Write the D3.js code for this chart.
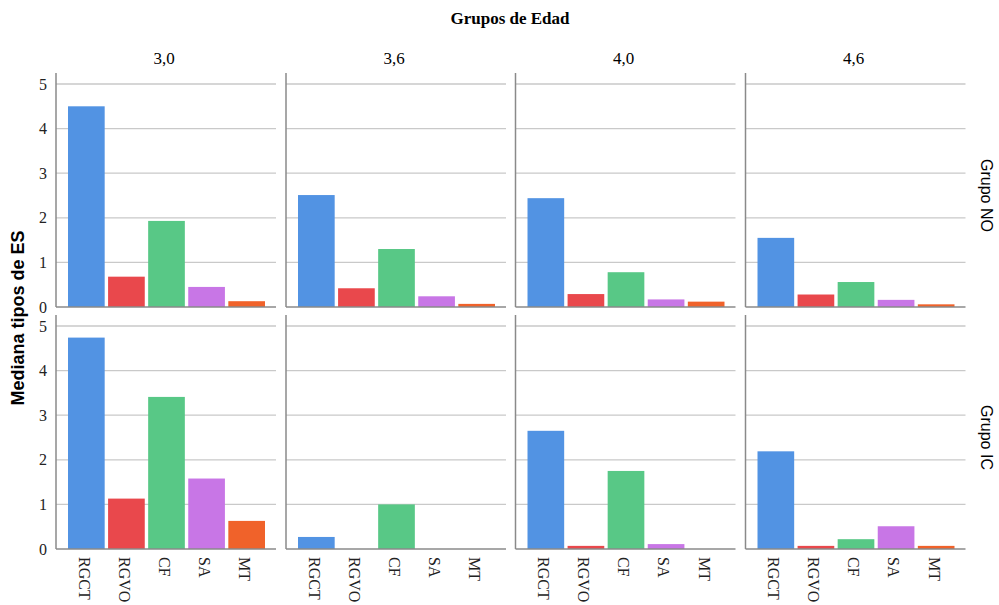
<!DOCTYPE html>
<html><head><meta charset="utf-8">
<script src="https://cdn.jsdelivr.net/npm/d3@7"></script>
<style>body{margin:0;background:#fff}</style>
</head><body>
<svg id="c" width="999" height="605"></svg>
<script>
const categories = ["RGCT","RGVO","CF","SA","MT"];
const ageGroups = ["3,0","3,6","4,0","4,6"];
const rowGroups = ["Grupo NO","Grupo IC"];
const yTicks = [0,1,2,3,4,5];
// values per age group, order of categories
const grupoNO = [
  [4.50,0.68,1.93,0.45,0.13],
  [2.51,0.42,1.30,0.24,0.07],
  [2.44,0.29,0.78,0.17,0.12],
  [1.55,0.28,0.56,0.16,0.06]
];
const grupoIC = [
  [4.74,1.13,3.41,1.58,0.63],
  [0.27,0,1.00,0,0],
  [2.65,0.07,1.75,0.11,0],
  [2.19,0.07,0.22,0.51,0.07]
];
const colors = ["#5293e3","#e9484c","#58c886","#c876e6","#f0622a"];

const svg = d3.select("#c");
const panelLefts = [56,286,515.5,745.5];
const panelW = 220;
const rows = [{top:84,bottom:307,data:grupoNO,axisTop:73},{top:326,bottom:549,data:grupoIC,axisTop:315}];
const color = d3.scaleOrdinal().domain(categories).range(colors);

// Title
svg.append("text").attr("x",510).attr("y",24).attr("text-anchor","middle")
  .attr("font-family","Liberation Serif").attr("font-weight","bold").attr("font-size",17).text("Grupos de Edad");
// Y label
svg.append("text").attr("transform","translate(24,318) rotate(-90)").attr("text-anchor","middle")
  .attr("font-family","Liberation Sans").attr("font-weight","bold").attr("font-size",18).text("Mediana tipos de ES");

ageGroups.forEach((g,i)=>{
  svg.append("text").attr("x",panelLefts[i]+panelW/2-2).attr("y",64).attr("text-anchor","middle")
    .attr("font-family","Liberation Serif").attr("font-size",17).text(g);
});

rows.forEach((r,ri)=>{
  const y = d3.scaleLinear().domain([0,5]).range([r.bottom,r.top]);
  svg.append("text").attr("transform",`translate(981,${(r.top+r.bottom)/2}) rotate(90)`).attr("text-anchor","middle")
    .attr("font-family","Liberation Sans").attr("font-size",16).text(rowGroups[ri]);
  ageGroups.forEach((g,pi)=>{
    const pl = panelLefts[pi];
    const x = d3.scaleBand().domain(categories).range([pl+10,pl+211]).paddingInner(0.085).paddingOuter(0.05);
    const gp = svg.append("g");
    // gridlines
    gp.selectAll("line.grid").data(yTicks.filter(t=>t>0)).enter().append("line")
      .attr("x1",pl).attr("x2",pl+panelW).attr("y1",d=>y(d)).attr("y2",d=>y(d))
      .attr("stroke","#c9c9c9").attr("stroke-width",1.3);
    // bars
    gp.selectAll("rect").data(categories.map((c,k)=>({c,v:r.data[pi][k]}))).enter().append("rect")
      .attr("x",d=>x(d.c)).attr("width",x.bandwidth())
      .attr("y",d=>y(d.v)).attr("height",d=>r.bottom-y(d.v))
      .attr("fill",d=>color(d.c));
    // axes lines
    gp.append("line").attr("x1",pl).attr("x2",pl).attr("y1",r.axisTop).attr("y2",r.bottom)
      .attr("stroke","#8a8a8a").attr("stroke-width",1.5);
    gp.append("line").attr("x1",pl).attr("x2",pl+panelW).attr("y1",r.bottom).attr("y2",r.bottom)
      .attr("stroke","#8a8a8a").attr("stroke-width",1.5);
    if(pi===0){
      const ax = d3.axisLeft(y).tickValues(yTicks).tickSize(0).tickPadding(9).tickFormat(d3.format("d"));
      const ag = svg.append("g").attr("transform",`translate(${pl},0)`).call(ax);
      ag.select(".domain").remove();
      ag.selectAll("text").attr("font-family","Liberation Serif").attr("font-size",16).attr("fill","#222");
    }
    if(ri===1){
      const ax = d3.axisBottom(x).tickSize(0).tickPadding(0);
      const ag = svg.append("g").attr("transform",`translate(0,${r.bottom})`).call(ax);
      ag.select(".domain").remove();
      ag.selectAll("text").attr("font-family","Liberation Serif").attr("font-size",16).attr("fill","#222")
        .attr("transform","translate(-2,8) rotate(90)").attr("text-anchor","start").attr("dy","0.35em").attr("y",0).attr("x",0);
    }
  });
});
</script>
</body></html>
